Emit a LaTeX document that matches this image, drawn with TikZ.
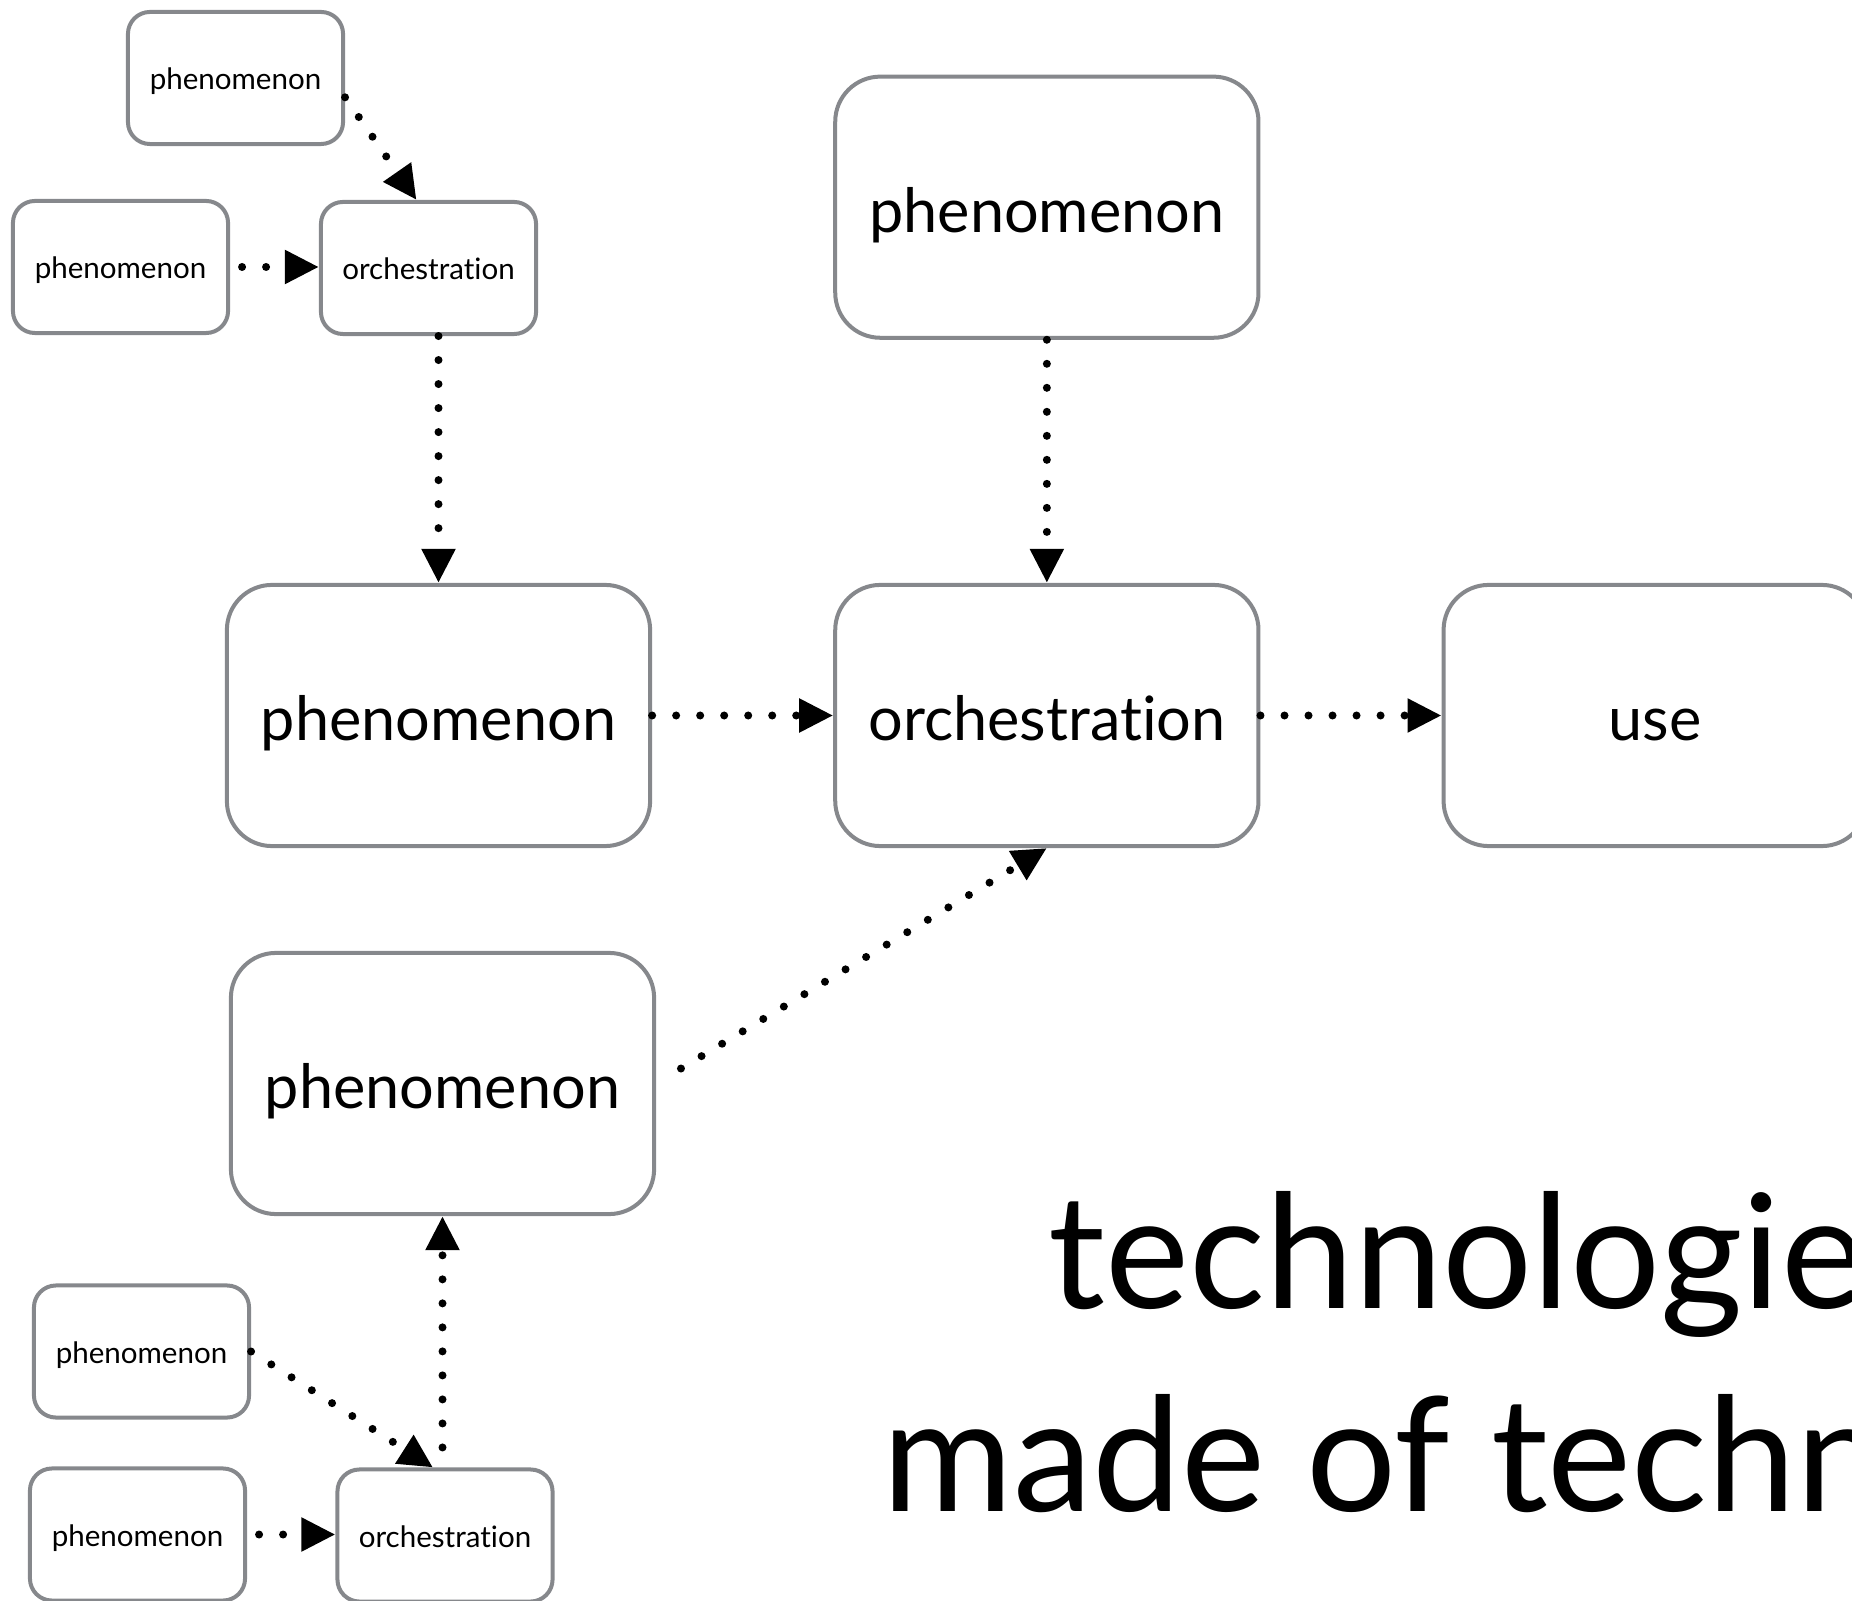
\documentclass[tikz,border=0pt]{standalone}
\usepackage{fontspec}
\setmainfont{Lato}[Ligatures={NoCommon,NoContextual}]
\usetikzlibrary{positioning,arrows.meta}
\definecolor{contur}{HTML}{86888C}
\tikzset{
  bloc/.style     = {draw=contur, line width=0.04cm, fill=white, align=center, inner sep=0pt},
  blocmic/.style  = {bloc, rounded corners=0.22cm, minimum width=2.15cm, minimum height=1.32cm,
                     text height=0.284cm, text depth=0.053cm, font=\fontsize{8.4}{10}\selectfont},
  blocmare/.style = {bloc, rounded corners=0.45cm, minimum width=4.23cm, minimum height=2.61cm,
                     text height=0.617cm, text depth=0.11cm, font=\fontsize{17.4}{21}\selectfont},
  sageata/.style  = {-{Triangle[length=0.34cm, width=0.32cm]}, line width=0.08cm,
                     line cap=round, dash pattern=on 0pt off 0.24cm},
  titlu/.style    = {anchor=base west, inner sep=0pt, font=\fontsize{45.2}{58}\selectfont}
}

\begin{document}
\begin{tikzpicture}[x=0.01cm, y=-0.01cm, node distance=1.81cm]
        \useasboundingbox (0,0) rectangle (1852,1601);

        % blocuri mari
        \node[blocmare] (f4) at (438.5,715.5) {phenomenon};
        \node[blocmare, right=of f4] (o2) {orchestration};
        \node[blocmare, right=of o2] (uz) {use};
        \node[blocmare, above=2.43cm of o2] (f3) {phenomenon};
        \node[blocmare] (f5) at (442.5,1083.5) {phenomenon};

        % blocuri mici
        \node[blocmic] (f1) at (235.5,78) {phenomenon};
        \node[blocmic] (f2) at (120.5,267) {phenomenon};
        \node[blocmic] (o1) at (428.5,268) {orchestration};
        \node[blocmic] (f6) at (141.5,1351.5) {phenomenon};
        \node[blocmic] (f7) at (137.5,1534.5) {phenomenon};
        \node[blocmic] (o3) at (445,1535.5) {orchestration};

        \draw[sageata] (f1.-10) -- (o1.100);
        \draw[sageata, shorten <=0.12cm] (f2.east) -- (f2.east -| o1.west);
        \draw[sageata] (o1.south -| f4.north) -- (f4.north);
        \draw[sageata] (f3.south) -- (o2.north);
        \draw[sageata] (f4.east) -- (o2.west);
        \draw[sageata] (o2.east) -- (uz.west);
        \draw[sageata, shorten <=0.29cm] (f5.east) -- (o2.south);
        \draw[sageata] (f6.east) -- (o3.100);
        \draw[sageata, shorten <=0.12cm] (f7.east) -- (f7.east -| o3.west);
        \draw[sageata, shorten <=0.2cm] (o3.north -| f5.south) -- (f5.south);

        \node[titlu] (rand1) at (1048,1308) {technologies are};
        \node[titlu] (rand2) at (882,1511) {made of technologies};
\end{tikzpicture}
\end{document}
